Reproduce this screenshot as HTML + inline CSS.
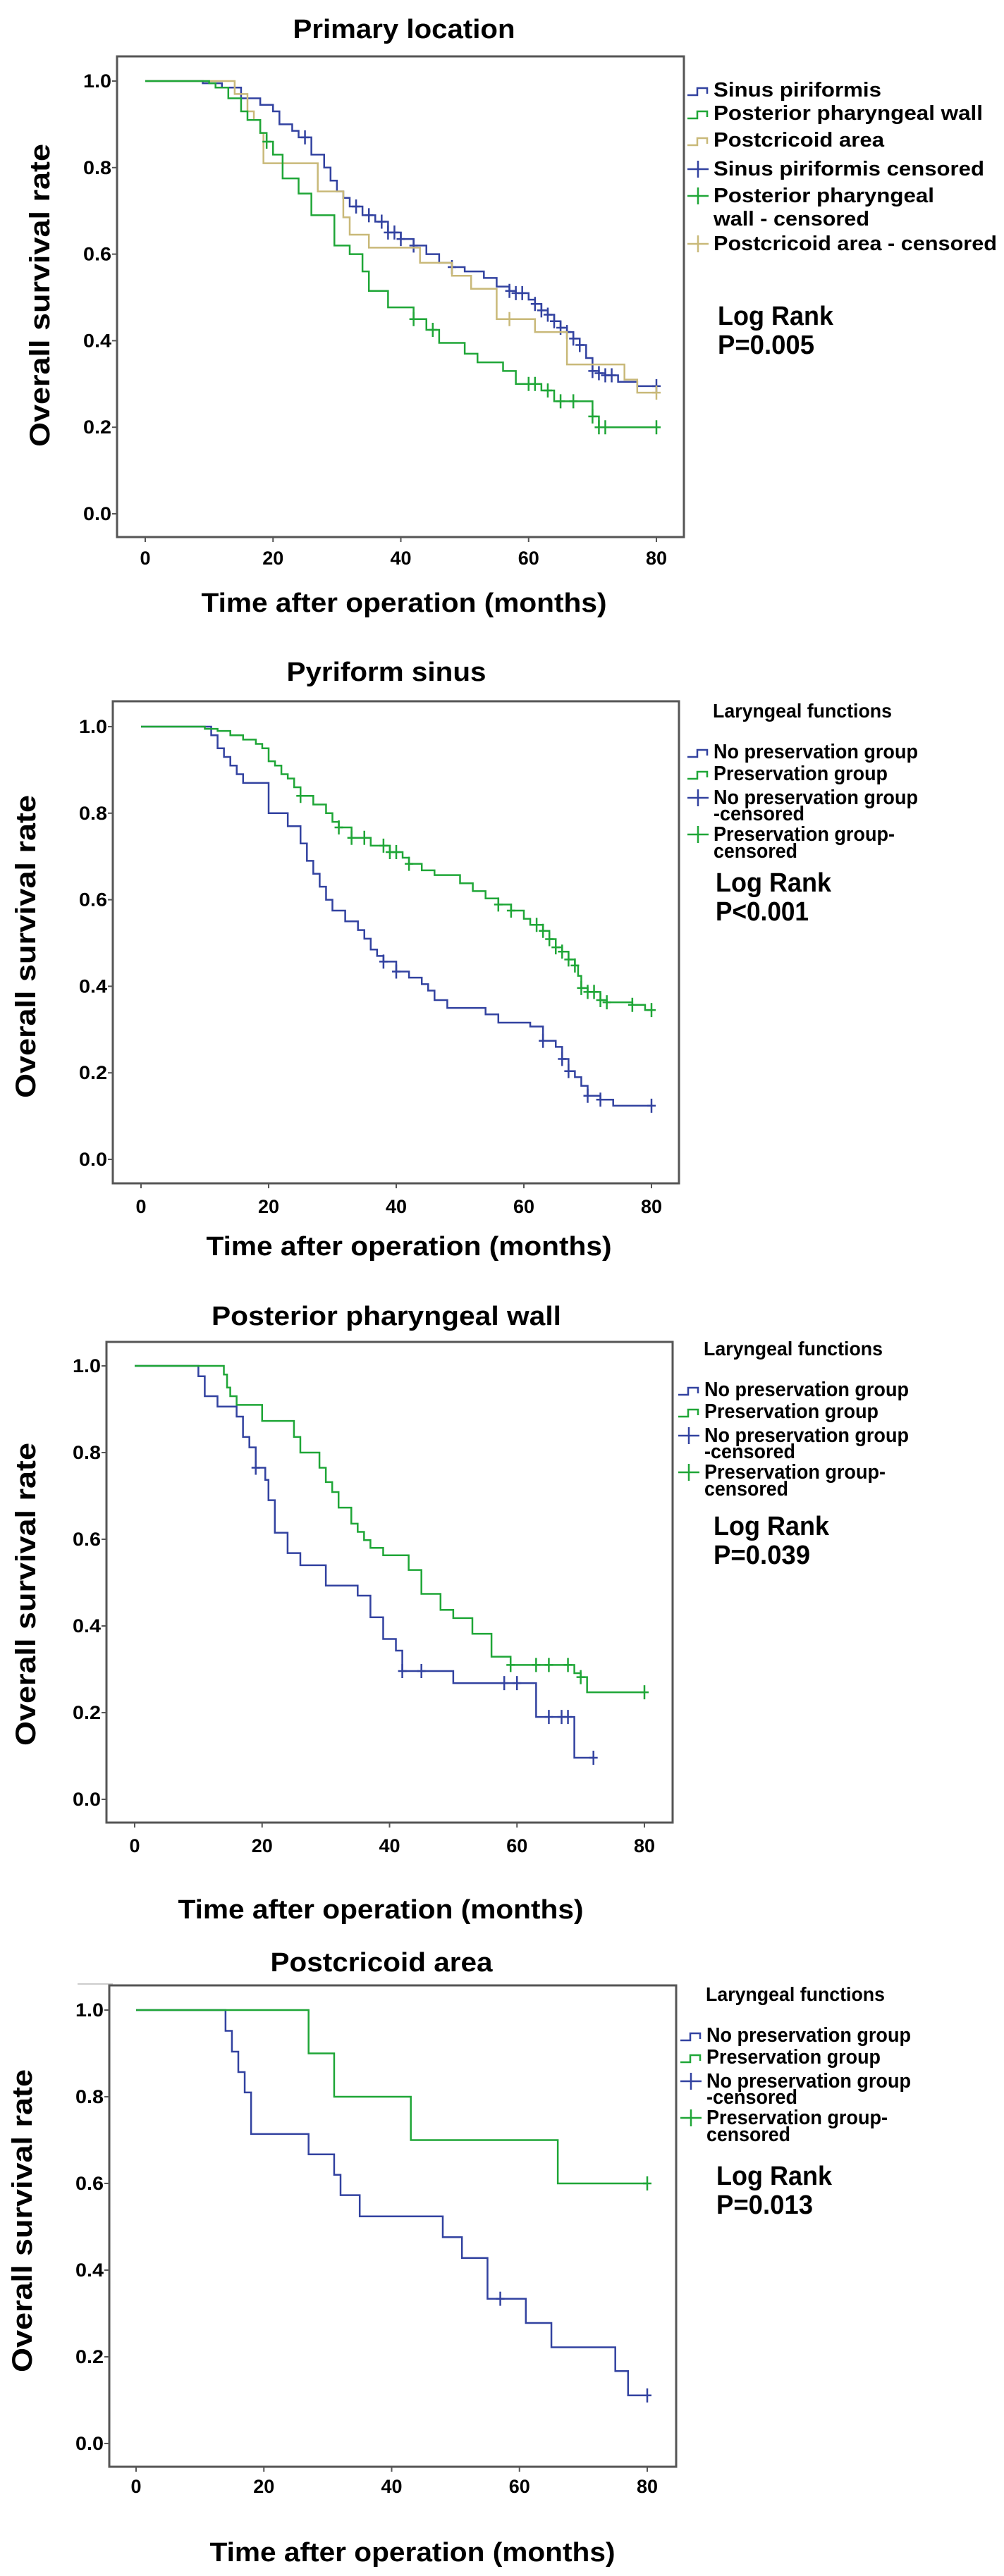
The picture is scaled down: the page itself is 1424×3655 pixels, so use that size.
<!DOCTYPE html>
<html><head><meta charset="utf-8"><style>
html,body{margin:0;padding:0;background:#fff;}
svg{display:block;}
text{font-family:"Liberation Sans Narrow","Liberation Sans",sans-serif;font-weight:bold;fill:#000;}
.ylab{font-family:"Liberation Sans",sans-serif;font-weight:bold;}
</style></head><body>
<svg id="page" width="1424" height="3655" viewBox="0 0 1424 3655" xmlns="http://www.w3.org/2000/svg"></svg>
<script>
// ---------- Panel 1: Primary location ----------
const p1SinusT = [0,9,12,15,18,20,21,23,24,26,28,29,30,31,32,34,36,38,40,42,44,46,48,50,53,55,57,58,60,61,62,63,64,65,66,67,68,69,70,71,72,74,77];
const p1SinusS = [1,0.995,0.985,0.96,0.945,0.93,0.9,0.885,0.87,0.83,0.8,0.77,0.745,0.73,0.71,0.69,0.675,0.65,0.635,0.62,0.6,0.58,0.57,0.56,0.545,0.525,0.515,0.51,0.495,0.485,0.47,0.46,0.445,0.43,0.42,0.405,0.39,0.36,0.33,0.325,0.32,0.305,0.295];
const p1PostT = [0,10,11,13,15,16,18,19,20,21.5,24,26,29.6,32,34,35,38,42,44,46,50,52,56,58,62,64,70,71];
const p1PostS = [1,0.995,0.985,0.96,0.93,0.91,0.88,0.86,0.83,0.775,0.74,0.69,0.62,0.6,0.56,0.515,0.477,0.45,0.425,0.395,0.37,0.35,0.33,0.30,0.285,0.26,0.225,0.20];
const p1CricT = [0,14,16,17,18,18.5,27,31,32,35,43,48,51,55,61,66,75,77];
const p1CricS = [1,0.97,0.93,0.91,0.88,0.81,0.745,0.685,0.645,0.615,0.58,0.55,0.52,0.45,0.42,0.345,0.31,0.28];
const p1SinusCens = [25,33,35,37,38,39,40,42,48,57,58,59,61,62,63,64,65,66,67,68,70,71,72,73,80];
const p1PostCens = [19,42,45,60,61,63,65,67,70,71,72,80];
const p1CricCens = [57,80];
// ---------- Panel 2: Pyriform sinus ----------
const p2NoT = [0,11,12,13,14,15,16,18,20,23,25,26,27,28,29,30,32,34,35,36,37,38,40,42,44,45,46,48,54,56,61,63,65,66,67,68,69,70,72,74];
const p2NoS = [1,0.98,0.95,0.93,0.91,0.89,0.87,0.87,0.80,0.77,0.73,0.69,0.66,0.63,0.60,0.575,0.55,0.53,0.51,0.485,0.47,0.457,0.434,0.42,0.405,0.39,0.368,0.35,0.335,0.316,0.307,0.274,0.26,0.232,0.204,0.19,0.17,0.147,0.138,0.124];
const p2YesT = [0,10,12,14,16,18,19,20,21,22,23,24,25,27,29,30,31,33,36,39,41,42,44,46,50,52,54,56,58,60,61,63,64,65,66,67,68,68.5,69,70,72,73,77,79];
const p2YesS = [1,0.995,0.99,0.98,0.97,0.96,0.95,0.92,0.91,0.89,0.88,0.86,0.84,0.82,0.80,0.78,0.767,0.743,0.725,0.71,0.697,0.683,0.668,0.657,0.638,0.62,0.603,0.589,0.575,0.556,0.542,0.528,0.509,0.49,0.48,0.462,0.448,0.424,0.396,0.387,0.368,0.363,0.357,0.345];
const p2NoCens = [38,40,63,66,67,70,72,80];
const p2YesCens = [25,31,33,35,38,39,40,42,56,58,62,63,64,65,66,67,68,69,70,71,72,73,77,80];
// ---------- Panel 3: Posterior pharyngeal wall ----------
const p3NoT = [0,10,11,13,16,17,18,19,20.5,21,22,24,26,30,35,37,39,41,42,50,63,69];
const p3NoS = [1,0.976,0.93,0.906,0.883,0.836,0.812,0.765,0.737,0.69,0.615,0.568,0.54,0.493,0.47,0.42,0.37,0.343,0.296,0.268,0.19,0.096];
const p3YesT = [0,14,14.5,15,16,20,25,26,29,30,31,32,34,35,36,37,39,43,45,48,50,53,56,59,69,70,71];
const p3YesS = [1,0.98,0.95,0.93,0.91,0.873,0.836,0.80,0.765,0.732,0.709,0.673,0.636,0.617,0.598,0.58,0.563,0.529,0.474,0.437,0.418,0.382,0.329,0.31,0.291,0.282,0.247];
const p3NoCens = [19,42,45,58,60,65,67,68,72];
const p3YesCens = [59,63,65,68,70,80];
// ---------- Panel 4: Postcricoid area ----------
const p4NoT = [0,14,15,16,17,18,27,31,32,35,48,51,55,61,65,75,77];
const p4NoS = [1,0.952,0.904,0.857,0.81,0.714,0.667,0.62,0.573,0.524,0.476,0.428,0.334,0.278,0.222,0.167,0.111];
const p4YesT = [0,27,31,43,66];
const p4YesS = [1,0.9,0.8,0.7,0.6];
const p4NoCens = [57,80];
const p4YesCens = [80];

const yTickLabels = ["0.0","0.2","0.4","0.6","0.8","1.0"];
const yTickVals = [0,0.2,0.4,0.6,0.8,1.0];
const xTickVals = [0,20,40,60,80];

const BLUE="#3242a0", GREEN="#1fa637", TAN="#c9b979";
const NS="http://www.w3.org/2000/svg";
const svg=document.getElementById('page');
function mk(tag,attrs,parent){const e=document.createElementNS(NS,tag);for(const k in attrs)e.setAttribute(k,attrs[k]);(parent||svg).appendChild(e);return e;}
function txt(s,x,y,size,opts,parent){opts=opts||{};const e=mk('text',{x:x,y:y,'font-size':size},parent);
 if(opts.anchor)e.setAttribute('text-anchor',opts.anchor);
 if(opts.len){e.setAttribute('textLength',opts.len);e.setAttribute('lengthAdjust','spacingAndGlyphs');}
 if(opts.cls)e.setAttribute('class',opts.cls);
 if(opts.tr)e.setAttribute('transform',opts.tr);
 e.textContent=s;return e;}
function stepVal(T,S,t){let v=S[0];for(let i=0;i<T.length;i++){if(T[i]<=t)v=S[i];}return v;}

function panel(cfg){
 const g=mk('g',{});
 
 
 const xs=t=>cfg.x0+(cfg.x80-cfg.x0)*t/80;
 const ys=s=>cfg.y0+(cfg.y1-cfg.y0)*s;
 const fr=mk('rect',{x:cfg.fl,y:cfg.ft,width:cfg.fr-cfg.fl,height:cfg.fb-cfg.ft,fill:'none',stroke:'#555',"stroke-width":3},g);
 
 
 const t=txt(cfg.title,cfg.titleX,cfg.titleY,38,{anchor:'middle',len:cfg.titleW},g);
 
 
 yTickVals.forEach((v,i)=>{
  mk('line',{x1:cfg.fl-7,x2:cfg.fl,y1:ys(v),y2:ys(v),stroke:'#555','stroke-width':2},g);
  const l=txt(yTickLabels[i],cfg.fl-8,ys(v)+9,27,{anchor:'end',len:40},g);
  
  
 });
 xTickVals.forEach(v=>{
  mk('line',{x1:xs(v),x2:xs(v),y1:cfg.fb,y2:cfg.fb+7,stroke:'#555','stroke-width':2},g);
  const l=txt(String(v),xs(v),cfg.xtY,27,{anchor:'middle'},g);
  
  
 });
 const xl=txt('Time after operation (months)',cfg.xlabX,cfg.xlabY,38,{anchor:'middle',len:575},g);
 
 
 const yl=txt('Overall survival rate',0,0,40,{anchor:'middle',len:430,cls:'ylab',tr:`translate(${cfg.ylabX},${cfg.ylabY}) rotate(-90)`},g);
 
 
 cfg.series.forEach(se=>{
  let d=`M${xs(se.T[0])},${ys(se.S[0])}`;
  for(let i=1;i<se.T.length;i++){d+=` H${xs(se.T[i])} V${ys(se.S[i])}`;}
  d+=` H${xs(se.end)}`;
  const p=mk('path',{d:d,fill:'none',stroke:se.c,'stroke-width':2.5},g);
  
  
  se.cens.forEach(ct=>{
   const cx=xs(ct),cy=ys(stepVal(se.T,se.S,ct));
   const m=mk('path',{d:`M${cx-6},${cy} H${cx+6} M${cx},${cy-10} V${cy+10}`,stroke:se.c,'stroke-width':2.5},g);
   
   
  });
 });
 cfg.legend.forEach(it=>{
  const lx=cfg.legX;
  const lh=it.lh||0;
  if(it.sw==='step'){const s=mk('path',{d:`M${lx},${it.y-2} H${lx+14} V${it.y-12} H${lx+28} V${it.y-4}`,fill:'none',stroke:it.c,'stroke-width':2.5},g);
   }
  if(it.sw==='cross'){const s=mk('path',{d:`M${lx},${it.y-9} H${lx+30} M${lx+15},${it.y-21} V${it.y+3}`,fill:'none',stroke:it.c,'stroke-width':2.5},g);
   }
  it.lines.forEach((ln,k)=>{
   const e=txt(ln[0],cfg.legX+ (it.sw?37:(it.dx||0)),it.y+k*lh,it.fs||29,{len:ln[1]},g);
   
   
  });
 });
 const lr=txt('Log Rank',cfg.lrX,cfg.lrY,38,{len:164},g);
 
 
 const pv=txt(cfg.p,cfg.lrX,cfg.lrY+41,38,{len:cfg.pW},g);
 
 
}

function lgStd(y0,off){
 return [
  {lines:[['Laryngeal functions',254]],y:y0,lh:0,fs:28,dx:36+off},
  {sw:'step',c:BLUE,lines:[['No preservation group',290]],y:y0+58},
  {sw:'step',c:GREEN,lines:[['Preservation group',247]],y:y0+89},
  {sw:'cross',c:BLUE,lines:[['No preservation group',290],['-censored',129]],y:y0+123,lh:23},
  {sw:'cross',c:GREEN,lines:[['Preservation group-',257],['censored',119]],y:y0+175,lh:24}
 ];
}

panel({name:'primary-location-panel',title:'Primary location',titleX:573,titleY:54,titleW:315,
 fl:166,fr:970,ft:80,fb:762,x0:206,x80:931,y1:115,y0:729,xtY:801,xlabX:573,xlabY:868,ylabX:70,ylabY:419,
 legX:975,lrX:1018,lrY:461,p:'P=0.005',pW:137,
 series:[
  {n:'sinus-piriformis',T:p1SinusT,S:p1SinusS,end:80,c:BLUE,cens:p1SinusCens},
  {n:'postcricoid-area',T:p1CricT,S:p1CricS,end:80,c:TAN,cens:p1CricCens},
  {n:'posterior-pharyngeal-wall',T:p1PostT,S:p1PostS,end:80,c:GREEN,cens:p1PostCens}],
 legend:[
  {sw:'step',c:BLUE,lines:[['Sinus piriformis',238]],y:137},
  {sw:'step',c:GREEN,lines:[['Posterior pharyngeal wall',382]],y:170},
  {sw:'step',c:TAN,lines:[['Postcricoid area',242]],y:208},
  {sw:'cross',c:BLUE,lines:[['Sinus piriformis censored',384]],y:249},
  {sw:'cross',c:GREEN,lines:[['Posterior pharyngeal',313],['wall - censored',221]],y:287,lh:33},
  {sw:'cross',c:TAN,lines:[['Postcricoid area - censored',402]],y:355}]
});
panel({name:'pyriform-sinus-panel',title:'Pyriform sinus',titleX:548,titleY:966,titleW:283,
 fl:160,fr:963,ft:995,fb:1679,x0:200,x80:924,y1:1031,y0:1645,xtY:1721,xlabX:580,xlabY:1781,ylabX:50,ylabY:1343,
 legX:975,lrX:1015,lrY:1265,p:'P<0.001',pW:132,
 series:[
  {n:'no-preservation',T:p2NoT,S:p2NoS,end:80,c:BLUE,cens:p2NoCens},
  {n:'preservation',T:p2YesT,S:p2YesS,end:80,c:GREEN,cens:p2YesCens}],
 legend:lgStd(1018,0)
});
panel({name:'posterior-pharyngeal-wall-panel',title:'Posterior pharyngeal wall',titleX:548,titleY:1880,titleW:496,
 fl:151,fr:954,ft:1904,fb:2586,x0:191,x80:914,y1:1938,y0:2553,xtY:2628,xlabX:540,xlabY:2722,ylabX:50,ylabY:2262,
 legX:962,lrX:1012,lrY:2178,p:'P=0.039',pW:137,
 series:[
  {n:'no-preservation',T:p3NoT,S:p3NoS,end:72,c:BLUE,cens:p3NoCens},
  {n:'preservation',T:p3YesT,S:p3YesS,end:80,c:GREEN,cens:p3YesCens}],
 legend:lgStd(1923,0)
});
mk('line',{x1:110,x2:160,y1:2815,y2:2815,stroke:'#ccc','stroke-width':2});
panel({name:'postcricoid-area-panel',title:'Postcricoid area',titleX:541,titleY:2797,titleW:315,
 fl:155,fr:959,ft:2817,fb:3500,x0:193,x80:918,y1:2852,y0:3467,xtY:3537,xlabX:585,xlabY:3634,ylabX:45,ylabY:3151,
 legX:965,lrX:1016,lrY:3100,p:'P=0.013',pW:137,
 series:[
  {n:'no-preservation',T:p4NoT,S:p4NoS,end:80,c:BLUE,cens:p4NoCens},
  {n:'preservation',T:p4YesT,S:p4YesS,end:80,c:GREEN,cens:p4YesCens}],
 legend:lgStd(2839,0)
});
</script>
</body></html>
